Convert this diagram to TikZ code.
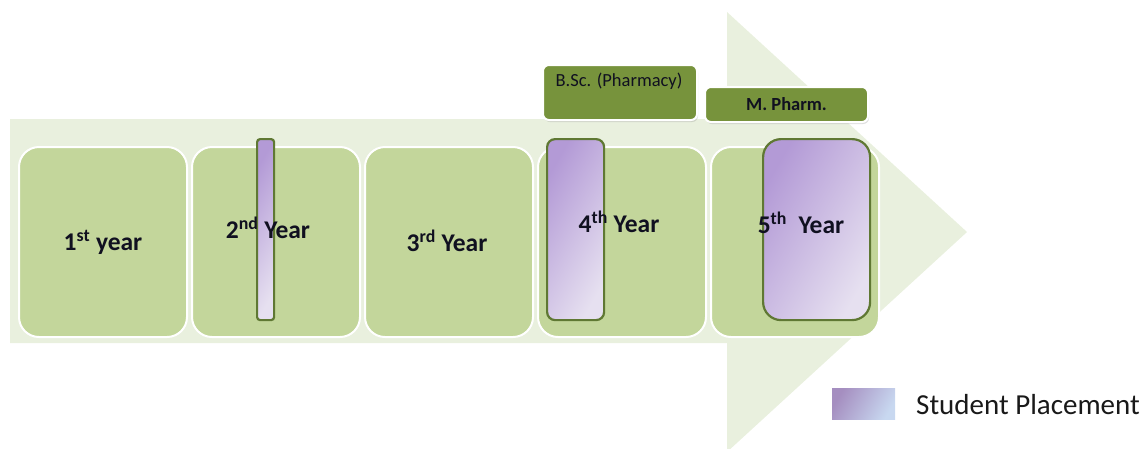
\documentclass[tikz,border=0pt]{standalone}
\usepackage{fontspec}
\setmainfont{Carlito}
\usetikzlibrary{shadows}
\definecolor{arrowbg}{HTML}{E9F0DE}
\definecolor{yearfill}{HTML}{C3D69B}
\definecolor{headfill}{HTML}{77933C}
\definecolor{barline}{HTML}{5F7833}
\definecolor{purpA}{HTML}{B39AD6}
\definecolor{purpB}{HTML}{E6E0F0}
\definecolor{legA}{HTML}{A58EC0}
\definecolor{legB}{HTML}{C8D8F0}
\definecolor{txt}{HTML}{101020}
\tikzset{
  yearbox/.style={draw=white, line width=2pt, fill=yearfill, rounded corners=20pt,
    minimum width=168pt, minimum height=190pt, anchor=north west, inner sep=0pt},
  placebar/.style={draw=barline, line width=2.2pt, top color=purpA, bottom color=purpB,
    shading angle=60, anchor=north west, inner sep=0pt},
  headbox/.style={draw=white, line width=2pt, fill=headfill, rounded corners=6pt,
    anchor=north west, inner sep=0pt,
    drop shadow={opacity=0.25, shadow xshift=1pt, shadow yshift=-2pt}},
  yearlabel/.style={font=\fontsize{25.5}{28}\selectfont\bfseries, text=txt, inner sep=0pt},
}
\begin{document}
\begin{tikzpicture}[x=1pt, y=-1pt]
\useasboundingbox (0,0) rectangle (1147,448);
% big arrow
\fill[arrowbg] (10,119) -- (727,119) -- (727,12) -- (967,232) -- (727,452) -- (727,343) -- (10,343) -- cycle;
% year boxes
\node[yearbox] (y1) at (18,146) {};
\node[yearbox] (y2) at (191,146) {};
\node[yearbox] (y3) at (364,146) {};
\node[yearbox] (y4) at (537,146) {};
\node[yearbox] (y5) at (710,146) {};
% placement bars
\node[placebar, rounded corners=3pt, minimum width=17pt, minimum height=181pt] (p2) at (256,138) {};
\node[placebar, rounded corners=8pt, minimum width=57pt, minimum height=181pt] (p4) at (546,138) {};
\node[placebar, rounded corners=18pt, minimum width=107pt, minimum height=181pt] (p5) at (762,138) {};
% labels
\node[yearlabel] (l1) at (103,242) {1\textsuperscript{st} year};
\node[yearlabel] (l2) at (268,228) {2\textsuperscript{nd} Year};
\node[yearlabel] (l3) at (447,241) {3\textsuperscript{rd} Year};
\node[yearlabel] (l4) at (619,222) {4\textsuperscript{th}\ Year};
\node[yearlabel] (l5) at (801,223) {5\textsuperscript{th}\ \ Year};
% header boxes
\node[headbox, minimum width=154pt, minimum height=55pt] (bsc) at (542,64) {};
\node[font=\fontsize{18.5}{20}\selectfont, text=txt, inner sep=0pt] (bsct) at (619,81) {B.Sc. (Pharmacy)};
\node[headbox, minimum width=163pt, minimum height=35pt, font=\fontsize{18.5}{20}\selectfont\bfseries, text=txt] (mph) at (704,86) {M. Pharm.};
% legend
\node[anchor=north west, inner sep=0pt, minimum width=63pt, minimum height=31pt,
  top color=legA, bottom color=legB, shading angle=60] (leg) at (832,388) {};
\node[anchor=west, inner sep=0pt, font=\fontsize{29}{32}\selectfont, text=black!90] (legt) at (916,405) {Student Placement};
\end{tikzpicture}
\end{document}
